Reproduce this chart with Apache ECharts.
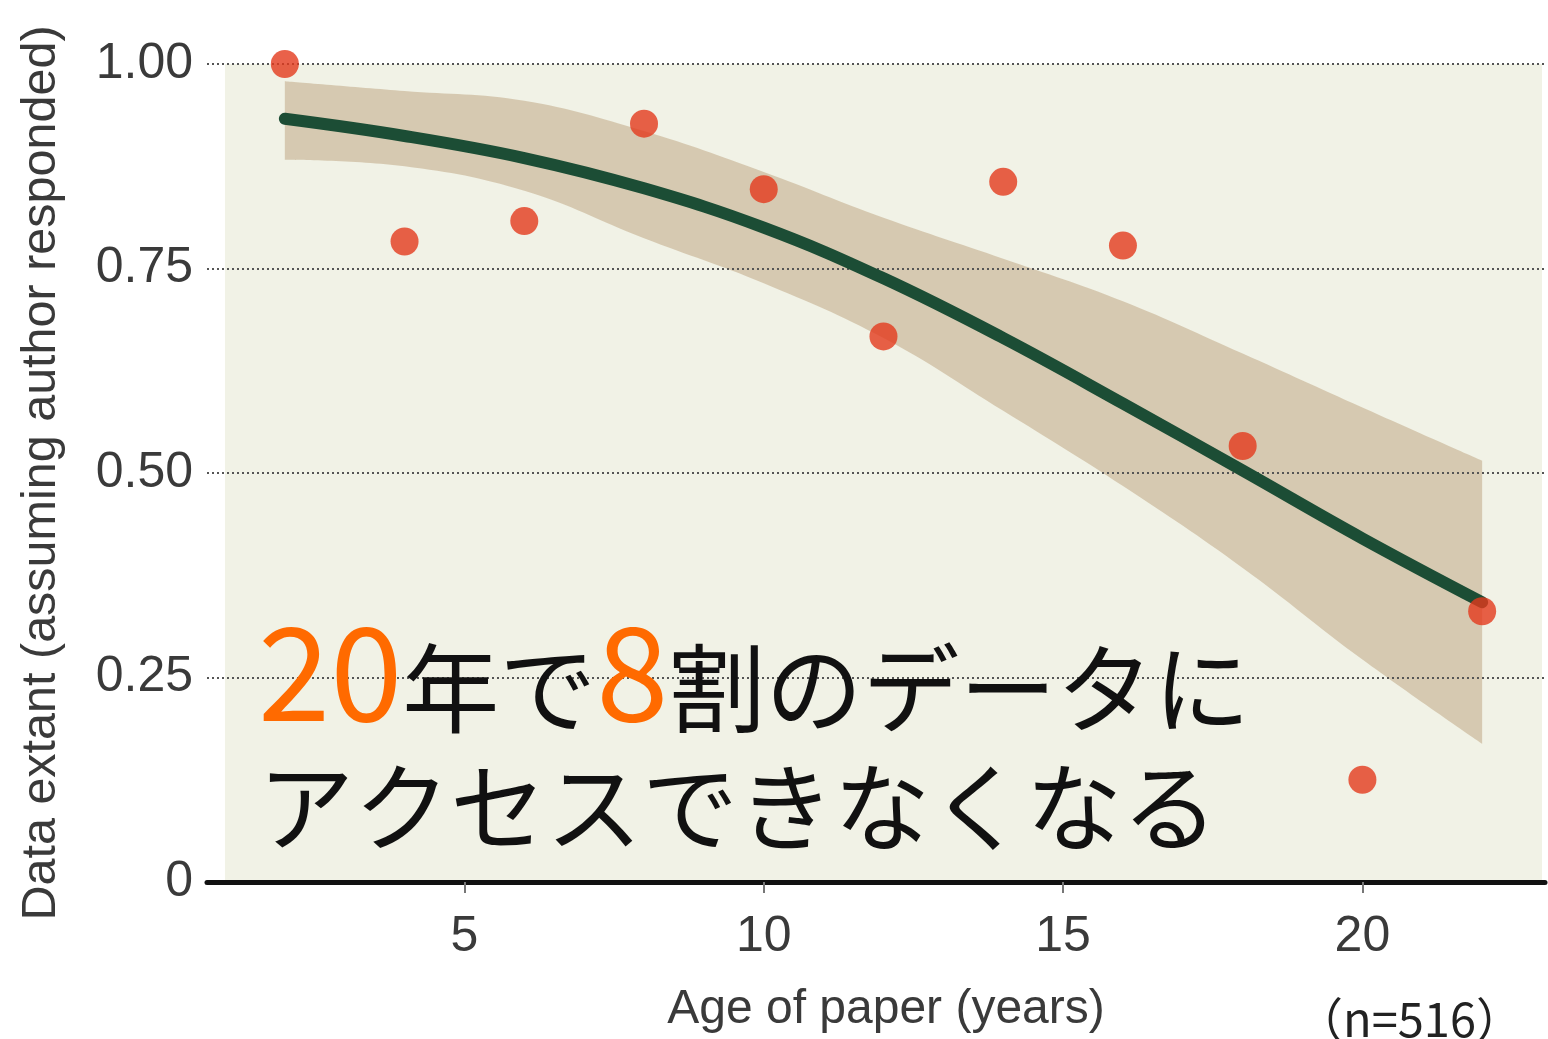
<!DOCTYPE html>
<html>
<head>
<meta charset="utf-8">
<style>
  html, body { margin: 0; padding: 0; background: #ffffff; }
  #chart { width: 1548px; height: 1039px; }
</style>
<script src="https://cdn.jsdelivr.net/npm/echarts@6/dist/echarts.min.js"></script>
</head>
<body>
<div id="chart"></div>
<script>
// Share of papers whose data is still available, by age of paper
const ages = [2, 4, 6, 8, 10, 12, 14, 16, 18, 20, 22];
const extant = [1.00, 0.783, 0.808, 0.927, 0.847, 0.667, 0.856, 0.778, 0.533, 0.125, 0.331];

// Fitted trend and its confidence band
const fitAges = [2, 4, 6, 8, 10, 12, 14, 16, 18, 20, 22];
const fitMid  = [0.933, 0.912, 0.885, 0.848, 0.800, 0.738, 0.665, 0.585, 0.503, 0.420, 0.342];
const fitLow  = [0.883, 0.875, 0.845, 0.787, 0.732, 0.665, 0.576, 0.484, 0.384, 0.272, 0.169];
const fitHigh = [0.979, 0.967, 0.955, 0.918, 0.868, 0.812, 0.762, 0.710, 0.646, 0.580, 0.515];

// Axis ticks
const xTicks = [5, 10, 15, 20];
const yTicks = [0, 0.25, 0.5, 0.75, 1];
const yTickLabels = ['0', '0.25', '0.50', '0.75', '1.00'];

// Shaded plot panel (data coordinates)
const panelX = [1, 23];
const panelY = [0, 1];

const axisFont = 'Liberation Sans, Arial, sans-serif';
const jpFont = '"Noto Sans CJK JP", sans-serif';

const chart = echarts.init(document.getElementById('chart'), null, { renderer: 'canvas' });

// band rows are [value, age] so the value column is the one that gets stacked
const bandLowRows = fitAges.map((a, i) => [fitLow[i], a]);
const bandWidthRows = fitAges.map((a, i) => [fitHigh[i] - fitLow[i], a]);

const option = {
  backgroundColor: '#ffffff',
  animation: false,
  grid: { left: 207, right: 3, top: 64, bottom: 148, containLabel: false },
  xAxis: {
    type: 'value',
    min: 0.7,
    max: 23.05,
    z: 5,
    name: 'Age of paper (years)',
    nameLocation: 'middle',
    nameGap: 104,
    nameTextStyle: { fontFamily: axisFont, fontSize: 48, color: '#3a3a3a', padding: [0, 0, 0, 20] },
    axisLine: { show: true, lineStyle: { color: '#111111', width: 5 } },
    axisTick: { show: true, customValues: xTicks, length: 11, lineStyle: { color: '#777777', width: 2 } },
    axisLabel: {
      customValues: xTicks,
      margin: 30,
      fontFamily: axisFont,
      fontSize: 50,
      color: '#3a3a3a'
    },
    splitLine: { show: false }
  },
  yAxis: {
    type: 'value',
    min: 0,
    max: 1,
    interval: 0.25,
    z: 2.5,
    name: 'Data extant (assuming author responded)',
    nameLocation: 'middle',
    nameGap: 141,
    nameTextStyle: { fontFamily: axisFont, fontSize: 48.5, color: '#3a3a3a' },
    axisLine: { show: false },
    axisTick: { show: false },
    axisLabel: {
      margin: 14,
      fontFamily: axisFont,
      fontSize: 50,
      color: '#3a3a3a',
      formatter: function (v) {
        const i = yTicks.findIndex(t => Math.abs(t - v) < 1e-9);
        return i >= 0 ? yTickLabels[i] : '';
      }
    },
    splitLine: { show: true, lineStyle: { color: '#555555', width: 2, type: [2, 3] } }
  },
  series: [
    {
      // plot panel shading
      type: 'line',
      z: 1,
      data: [],
      silent: true,
      markArea: {
        silent: true,
        itemStyle: { color: '#f1f2e6' },
        data: [[{ xAxis: panelX[0], yAxis: panelY[0] }, { xAxis: panelX[1], yAxis: panelY[1] }]]
      }
    },
    {
      // lower edge of the band (invisible)
      type: 'line',
      z: 2,
      stack: 'band',
      smooth: 0.4,
      symbol: 'none',
      encode: { x: 1, y: 0 },
      lineStyle: { width: 0, opacity: 0 },
      data: bandLowRows
    },
    {
      // band thickness stacked on the lower edge
      type: 'line',
      z: 2,
      stack: 'band',
      smooth: 0.4,
      symbol: 'none',
      encode: { x: 1, y: 0 },
      lineStyle: { width: 0, opacity: 0 },
      areaStyle: { color: 'rgba(210,194,168,0.86)', opacity: 1 },
      data: bandWidthRows
    },
    {
      type: 'line',
      z: 3,
      smooth: 0.4,
      symbol: 'none',
      lineStyle: { color: '#1c4d35', width: 12, cap: 'round', join: 'round' },
      data: fitAges.map((a, i) => [a, fitMid[i]])
    },
    {
      type: 'scatter',
      z: 4,
      symbol: 'circle',
      symbolSize: 28,
      itemStyle: { color: '#e3391d' },
      data: ages.map((a, i) => [a, extant[i]])
    }
  ],
  graphic: [
    {
      type: 'text',
      z: 100,
      x: 258,
      y: 737,
      style: {
        text: '{o|20}{k|年で}{o|8}{k|割のデータに}',
        verticalAlign: 'bottom',
        rich: {
          o: { fontFamily: jpFont, fontSize: 130, fill: '#ff6a00', verticalAlign: 'bottom' },
          k: { fontFamily: jpFont, fontSize: 97, fill: '#111111', verticalAlign: 'bottom' }
        }
      }
    },
    {
      type: 'text',
      z: 100,
      x: 258,
      y: 855,
      style: {
        text: 'アクセスできなくなる',
        fontFamily: jpFont,
        fontSize: 96,
        fill: '#111111',
        verticalAlign: 'bottom'
      }
    },
    {
      type: 'text',
      z: 100,
      x: 1296,
      y: 1043,
      style: {
        text: '（n=516）',
        fontFamily: jpFont,
        fontSize: 47,
        fill: '#222222',
        verticalAlign: 'bottom'
      }
    }
  ]
};

chart.setOption(option);
</script>
</body>
</html>
